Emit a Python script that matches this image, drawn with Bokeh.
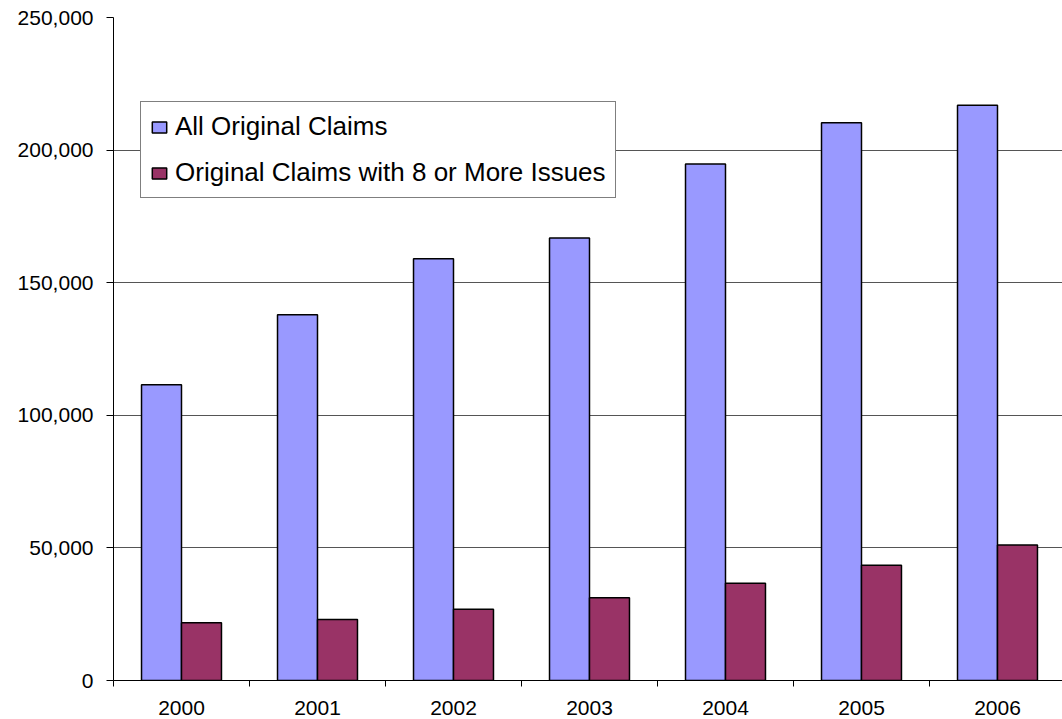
from bokeh.plotting import figure
from bokeh.models import ColumnDataSource, Range1d, FixedTicker, NumeralTickFormatter, Legend, LegendItem
from bokeh.transform import dodge
from bokeh.embed import file_html
from bokeh.resources import INLINE

years = [2000, 2001, 2002, 2003, 2004, 2005, 2006]
all_claims = [111500, 137900, 159000, 166900, 194800, 210300, 216900]
claims_8plus = [21800, 23000, 26900, 31200, 36700, 43500, 51100]
y_ticks = [0, 50000, 100000, 150000, 200000, 250000]

src = ColumnDataSource(dict(year=years, all=all_claims, many=claims_8plus))

FONT = "Liberation Sans"
p = figure(width=1062, height=719, output_backend="svg", toolbar_location=None,
           x_range=Range1d(years[0] - 0.5, years[0] - 0.5 + 6.978),
           y_range=Range1d(0, 250000),
           min_border_left=113, min_border_top=17, min_border_right=0, min_border_bottom=39)
p.outline_line_color = None
p.background_fill_color = "white"

bw = 0.294
r1 = p.vbar(x=dodge('year', -bw / 2), top='all', width=bw, source=src,
            fill_color="#9999FF", line_color="black", line_width=1.5)
r2 = p.vbar(x=dodge('year', bw / 2), top='many', width=bw, source=src,
            fill_color="#993366", line_color="black", line_width=1.5)

# y axis
p.yaxis.ticker = FixedTicker(ticks=y_ticks)
p.yaxis.formatter = NumeralTickFormatter(format="0,0")
p.yaxis.axis_line_color = "black"
p.yaxis.major_tick_line_color = "black"
p.yaxis.major_tick_in = 0
p.yaxis.major_tick_out = 7
p.yaxis.minor_tick_line_color = None
p.yaxis.major_label_text_font = FONT
p.yaxis.major_label_text_font_size = "21px"
p.yaxis.major_label_text_color = "black"
p.yaxis.major_label_standoff = 13

# x axis
p.xaxis.ticker = FixedTicker(ticks=years, minor_ticks=[y - 0.5 for y in years] + [years[-1] + 0.5])
p.xaxis.axis_line_color = "black"
p.xaxis.major_tick_line_color = None
p.xaxis.major_tick_in = 0
p.xaxis.major_tick_out = 0
p.xaxis.minor_tick_line_color = "black"
p.xaxis.minor_tick_in = 0
p.xaxis.minor_tick_out = 6
p.xaxis.major_label_text_font = FONT
p.xaxis.major_label_text_font_size = "21px"
p.xaxis.major_label_text_color = "black"
p.xaxis.major_label_standoff = 14

p.xgrid.grid_line_color = None
p.ygrid.grid_line_color = "#555555"
p.ygrid.grid_line_width = 1

legend = Legend(items=[LegendItem(label="All Original Claims", renderers=[r1]),
                       LegendItem(label="Original Claims with 8 or More Issues", renderers=[r2])],
                location=(27, 482))
legend.label_text_font = FONT
legend.label_text_font_size = "26px"
legend.label_text_color = "black"
legend.glyph_width = 18
legend.glyph_height = 14
legend.label_height = 23
legend.label_standoff = 7
legend.spacing = 15
legend.padding = 9
legend.margin = 0
legend.border_line_color = "black"
legend.border_line_width = 1
legend.background_fill_color = "white"
legend.background_fill_alpha = 1
p.add_layout(legend, "center")

open("out.html", "w").write(file_html(p, INLINE))
